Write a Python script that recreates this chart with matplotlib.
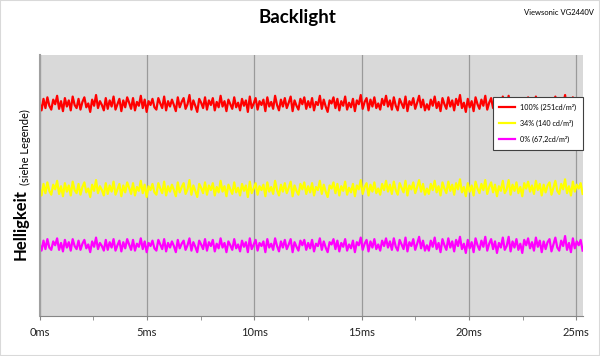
import numpy as np
import matplotlib
matplotlib.use('Agg')
import matplotlib.pyplot as plt
from matplotlib.patches import Rectangle

plt.rcParams['font.family'] = ['Lato', 'DejaVu Sans']

# brightness samples (cd/m²)
red_100 = [253, 243, 258, 246, 260, 249, 244, 257, 251, 262, 245, 255, 242, 259, 248, 256, 243, 261, 250, 246,
           258, 244, 254, 260, 247, 252, 241, 257, 249, 263, 246, 255, 250, 243, 259, 245, 256, 248, 261, 244,
           251, 258, 242, 256, 247, 260, 253, 245, 259, 243, 254, 249, 262, 246, 257, 241, 255, 250, 258, 247,
           244, 259, 252, 246, 261, 243, 255, 248, 257, 250, 242, 260, 247, 254, 259, 245, 251, 263, 244, 256,
           249, 241, 258, 253, 246, 260, 244, 256, 250, 259, 243, 254, 247, 262, 248, 255, 242, 257, 251, 245,
           260, 247, 253, 243, 258, 249, 256, 241, 261, 246, 252, 259, 244, 255, 250, 257, 242, 260, 248, 254,
           245, 262, 250, 243, 257, 248, 259, 246, 253, 261, 242, 256, 249, 244, 258, 251, 260, 245, 255, 247,
           259, 243, 254, 250, 262, 245, 257, 248, 241, 256, 252, 260, 246, 258, 243, 255, 249, 261, 244, 253,
           247, 258, 242, 256, 251, 263, 245, 254, 259, 243, 257, 248, 260, 246, 252, 244, 258, 250, 262, 248,
           256, 244, 260, 249, 243, 258, 252, 246, 261, 242, 255, 250, 259, 245, 253, 262, 247, 257, 243, 251,
           244, 257, 249, 261, 246, 254, 242, 259, 251, 245, 260, 248, 256, 243, 258, 250, 263, 246, 253, 241,
           258, 247, 255, 242, 260, 251, 245, 257, 249, 262, 244, 253, 259, 246, 256, 241, 254, 248, 261, 245,
           250, 262, 243, 256, 248, 259, 245, 253, 241, 258, 251, 260, 247, 255, 244, 261, 249, 257, 242, 256,
           246, 255, 259, 243, 252, 261, 248, 244, 257, 250, 263, 245, 254, 242, 260, 247, 256, 251, 258, 244]
yellow_34 = [142, 132, 147, 135, 149, 138, 133, 146, 140, 151, 134, 144, 131, 148, 137, 145, 132, 150, 139, 135,
             147, 133, 143, 149, 136, 141, 130, 146, 138, 152, 135, 144, 139, 132, 148, 134, 145, 137, 150, 133,
             140, 147, 131, 145, 136, 149, 142, 134, 148, 132, 143, 138, 151, 135, 146, 130, 144, 139, 147, 136,
             133, 148, 141, 135, 150, 132, 144, 137, 146, 139, 131, 149, 136, 143, 148, 134, 140, 152, 133, 145,
             138, 130, 147, 142, 135, 149, 133, 145, 139, 148, 132, 143, 136, 151, 137, 144, 131, 146, 140, 134,
             149, 136, 142, 132, 147, 138, 145, 130, 150, 135, 141, 148, 133, 144, 139, 146, 131, 149, 137, 143,
             134, 151, 139, 132, 146, 137, 148, 135, 142, 150, 131, 145, 138, 133, 147, 140, 149, 134, 144, 136,
             148, 132, 143, 139, 151, 134, 146, 137, 130, 145, 141, 149, 135, 147, 132, 144, 138, 150, 133, 142,
             136, 147, 131, 145, 140, 152, 134, 143, 148, 132, 146, 137, 149, 135, 141, 133, 147, 139, 151, 137,
             146, 134, 150, 139, 133, 148, 142, 136, 151, 132, 145, 140, 149, 135, 143, 152, 137, 147, 133, 141,
             134, 147, 139, 151, 136, 144, 132, 149, 141, 135, 150, 138, 146, 133, 148, 140, 153, 136, 143, 131,
             148, 137, 145, 132, 150, 141, 135, 147, 139, 152, 134, 143, 149, 136, 146, 131, 144, 138, 151, 135,
             140, 152, 133, 146, 138, 149, 135, 143, 131, 148, 141, 150, 137, 145, 134, 151, 139, 147, 132, 146,
             136, 145, 149, 133, 142, 151, 138, 134, 147, 140, 153, 135, 144, 132, 150, 137, 146, 141, 148, 134]
magenta_0 = [69, 60, 73, 62, 75, 64, 61, 72, 67, 76, 61, 70, 59, 74, 64, 71, 60, 75, 66, 62,
             73, 61, 69, 74, 63, 68, 58, 72, 65, 77, 62, 70, 66, 60, 74, 61, 71, 64, 75, 60,
             67, 73, 59, 71, 63, 75, 68, 61, 74, 60, 69, 65, 76, 62, 72, 58, 70, 66, 73, 63,
             60, 74, 68, 62, 75, 59, 70, 64, 72, 66, 58, 74, 63, 69, 73, 61, 67, 76, 60, 71,
             65, 58, 73, 68, 62, 75, 60, 71, 66, 74, 59, 69, 63, 76, 64, 70, 58, 72, 67, 61,
             75, 63, 68, 59, 73, 65, 71, 58, 76, 62, 68, 74, 60, 70, 66, 72, 58, 75, 64, 69,
             61, 76, 66, 59, 72, 64, 74, 62, 68, 75, 58, 71, 65, 60, 73, 67, 74, 61, 70, 63,
             74, 59, 69, 66, 76, 61, 72, 64, 58, 71, 68, 75, 62, 73, 59, 70, 65, 75, 60, 68,
             63, 73, 58, 71, 67, 77, 61, 69, 74, 59, 72, 64, 75, 62, 68, 60, 73, 66, 76, 64,
             72, 61, 76, 65, 60, 74, 68, 62, 77, 59, 71, 66, 75, 61, 69, 78, 63, 73, 60, 67,
             60, 73, 65, 77, 62, 70, 58, 75, 67, 61, 76, 64, 72, 59, 74, 66, 78, 62, 69, 57,
             74, 63, 71, 58, 76, 67, 61, 73, 65, 78, 60, 69, 75, 62, 72, 57, 70, 64, 77, 61,
             66, 78, 59, 72, 64, 75, 61, 69, 57, 74, 67, 76, 63, 71, 60, 77, 65, 73, 58, 72,
             62, 71, 75, 59, 68, 77, 64, 60, 73, 66, 79, 61, 70, 58, 76, 63, 72, 67, 74, 60]

labels = ['100% (251cd/m²)', '34% (140 cd/m²)', '0% (67,2cd/m²)']
colors = ['#ff0000', '#ffff00', '#ff00ff']
tick_ms = [0, 5, 10, 15, 20, 25]
trace_len_ms = 25.3

fig = plt.figure(figsize=(6, 3.56), dpi=100)
fig.patches.append(Rectangle((0, 0), 1, 1, transform=fig.transFigure, fill=False,
                             edgecolor='#d9d9d9', linewidth=1.5))
ax = fig.add_axes([0.066, 0.113, 0.905, 0.732])
ax.set_facecolor('#d9d9d9')

for series, lab, col in zip([red_100, yellow_34, magenta_0], labels, colors):
    t = np.linspace(0, trace_len_ms, len(series))
    ax.plot(t, series, color=col, lw=1.6, label=lab)

ax.set_xlim(0, trace_len_ms)
ax.set_ylim(-25, 315)
ax.set_xticks(tick_ms)
ax.set_xticklabels([f'{v}ms' for v in tick_ms], fontsize=8, color='#222222')
ax.set_xticks(np.arange(2.5, 25, 5), minor=True)
ax.tick_params(axis='x', which='both', direction='out', length=3, color='#868686', pad=5)
ax.set_yticks([])
ax.grid(axis='x', which='major', color='#9a9a9a', lw=0.9)
ax.set_axisbelow(True)
for s in ['top', 'right']:
    ax.spines[s].set_visible(False)
ax.spines['left'].set_color('#a0a0a0')
ax.spines['bottom'].set_color('#868686')
ax.spines['left'].set_linewidth(1.5)

fig.text(0.495, 0.95, 'Backlight', fontsize=13.5, fontweight='bold', ha='center', va='center')
fig.text(0.99, 0.965, 'Viewsonic VG2440V', fontsize=5.5, ha='right', va='center')
fig.text(0.035, 0.37, 'Helligkeit', fontsize=12, fontweight='bold', rotation=90, ha='center', va='center')
fig.text(0.042, 0.588, '(siehe Legende)', fontsize=8, rotation=90, ha='center', va='center')

leg = ax.legend(loc='upper right', bbox_to_anchor=(583 / 600, 1 - 97 / 356),
                bbox_transform=fig.transFigure, fontsize=5.2, frameon=True, fancybox=False,
                framealpha=1, handlelength=2.1, labelspacing=1.25, borderpad=0.9,
                borderaxespad=0)
leg.get_frame().set_edgecolor('#404040')
leg.get_frame().set_linewidth(0.8)

fig.savefig('out.png', dpi=100)
